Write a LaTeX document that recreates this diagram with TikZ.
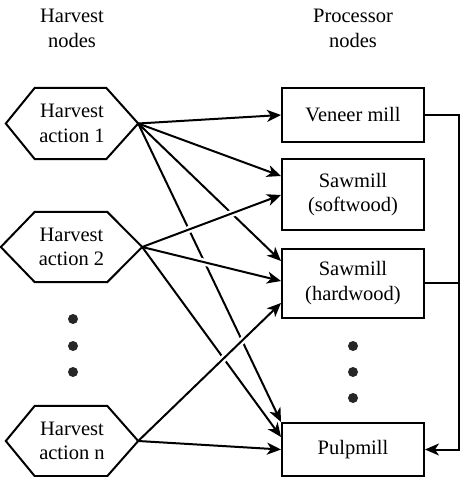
\documentclass[tikz,border=0pt]{standalone}
\usepackage{fontspec}
\setmainfont{Liberation Serif}
\newfontfamily\tnr{Liberation Serif}
\usetikzlibrary{arrows.meta,calc}
\begin{document}
\begin{tikzpicture}[x=1pt,y=-1pt,
  txt/.style={font=\tnr\fontsize{20.5}{24.5}\selectfont, align=center, inner sep=0pt},
  hexnode/.style={txt, minimum height=#1},
  mill/.style={txt, draw, line width=2pt, minimum width=142pt},
  hexline/.style={draw, line width=2pt, line join=miter},
  conn/.style={line width=2pt, -{Stealth[length=14pt,width=12pt,inset=4pt]}},
  busline/.style={line width=2pt},
  halo/.style={draw=white, line width=7pt, shorten <=16pt, shorten >=22pt},
  dotn/.style={circle, fill=black!85, inner sep=0pt, minimum size=10pt}
]
\useasboundingbox (0,0) rectangle (474,477);
\fill[white] (0,0) rectangle (474,477);

% headers
\node[txt] (hh) at (72,28.5) {Harvest\\nodes};
\node[txt] (ph) at (353,28.5) {Processor\\nodes};

% harvest nodes
\node[hexnode=71pt, minimum width=132pt] (h1) at (72,123.5) {Harvest\\action 1};
\node[hexnode=70pt, minimum width=141pt] (h2) at (71.5,247) {Harvest\\action 2};
\node[hexnode=70pt, minimum width=132pt] (hn) at (72,441) {Harvest\\action n};
\foreach \n/\a/\b in {h1/29/32, h2/34/35, hn/29/31}{
  \draw[hexline] (\n.west) -- ([xshift=\a pt]\n.north west) -- ([xshift=-\b pt]\n.north east)
    -- (\n.east) -- ([xshift=-\b pt]\n.south east) -- ([xshift=\a pt]\n.south west) -- cycle;
}

% processor nodes
\node[mill, minimum height=54pt] (veneer) at (353,115) {Veneer mill};
\node[mill, minimum height=71pt] (soft) at (353,194.5) {Sawmill\\(softwood)};
\node[mill, minimum height=69pt] (hard) at (353,283) {Sawmill\\(hardwood)};
\node[mill, minimum height=53pt] (pulp) at (353,449.5) {Pulpmill};

% dots
\node[dotn] (ld1) at (73,319) {};
\node[dotn] (ld2) at (73,346) {};
\node[dotn] (ld3) at (73,372) {};
\node[dotn] (rd1) at (353,346) {};
\node[dotn] (rd2) at (353,372) {};
\node[dotn] (rd3) at (353,398) {};

% connectors from harvest action 1
\draw[conn] (h1.east) -- (veneer.west);
\draw[conn] (h1.east) -- (soft.west |- 0,176);
\draw[conn] (h1.east) -- (hard.west |- 0,261);
\draw[conn] (h1.east) -- (pulp.north west);
% from harvest action 2 (gaps where they cross earlier lines)
\draw[halo] (h2.east) -- (soft.west |- 0,195);
\draw[conn] (h2.east) -- (soft.west |- 0,195);
\draw[halo] (h2.east) -- (hard.west |- 0,281);
\draw[conn] (h2.east) -- (hard.west |- 0,281);
\draw[conn] (h2.east) -- (pulp.west |- 0,437);
% from harvest action n
\draw[halo] (hn.east) -- (hard.west |- 0,303);
\draw[conn] (hn.east) -- (hard.west |- 0,303);
\draw[conn] (hn.east) -- (pulp.west);

% feedback bus
\coordinate (bus) at ($(veneer.east)+(34,0)$);
\draw[conn] (veneer.east) -- (bus) |- (pulp.east);
\draw[busline] (hard.east) -- (bus |- hard.east);
\end{tikzpicture}
\end{document}
